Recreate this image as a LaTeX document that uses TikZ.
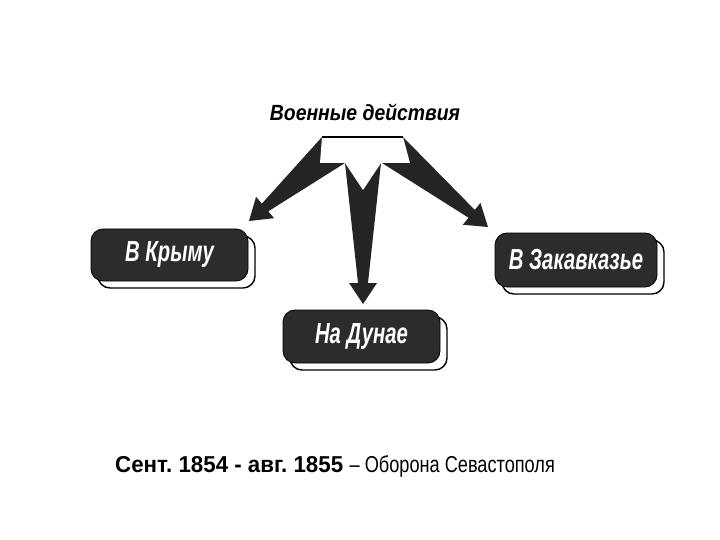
\documentclass[tikz,border=0pt]{standalone}
\usepackage{fontspec}
\setmainfont{Liberation Sans}
\newfontfamily\boxfont[FakeStretch=0.7]{Liberation Sans}
\newfontfamily\headfont[FakeStretch=0.88]{Liberation Sans}
\newfontfamily\datefont[FakeStretch=0.97]{Liberation Sans}
\newfontfamily\notefont[FakeStretch=0.79]{Liberation Sans}
\usetikzlibrary{calc,shadows}
\definecolor{boxDark}{RGB}{44,44,44}
\definecolor{wedgeDark}{RGB}{36,36,36}
\newcommand{\Wedge}[3]{%
  \coordinate (wm) at ($(#1)!0.5!(#2)$);
  \coordinate (wh) at ($(#3)!21pt!(wm)$);
  \fill[wedgeDark] (#1) -- ($(wh)!5pt!90:(#3)$) -- ($(wh)!14pt!90:(#3)$) -- (#3)
    -- ($(wh)!14pt!-90:(#3)$) -- ($(wh)!5pt!-90:(#3)$) -- (#2) -- cycle;}
\frenchspacing

\begin{document}
\begin{tikzpicture}[x=1pt,y=-1pt,
  theatre/.style={rounded corners=12pt,fill=boxDark,draw=black,line width=0.8pt,
    minimum width=157pt,minimum height=52pt,inner sep=0pt,text=white,
    font=\boxfont\bfseries\itshape\fontsize{29}{31}\selectfont,
    general shadow={fill=white,draw=black,line width=1.4pt,shadow xshift=7pt,shadow yshift=-7pt}}]
\useasboundingbox (0,0) rectangle (720,540);
\node[font=\headfont\bfseries\itshape\fontsize{22}{24}\selectfont] (title) at (365,112) {Военные действия};
% the three theatres
\node[theatre] (krym) at (169.5,255) {В Крыму};
\node[theatre,minimum width=162pt,minimum height=54pt] (kavkaz) at (576,260) {В Закавказье};
\node[theatre,minimum height=53pt] (dunai) at (361.5,336.5) {На Дунае};
% hub under the title
\coordinate (hubTL) at (322,137);
\coordinate (hubTR) at (403,137);
\coordinate (hubBL) at (345,163);
\coordinate (hubBR) at (381,163);
\coordinate (tipK) at (249,221);
\coordinate (tipZ) at (488,227);
\coordinate (tipD) at (363,304);
\Wedge{hubBL}{hubTL}{tipK}
\Wedge{hubTR}{382,163}{tipZ}
\Wedge{hubBR}{hubBL}{tipD}
\fill[white] (hubTL) -- (hubTR) -- (410,163) -- (hubBR) -- (363,190) -- (hubBL) -- (320,163) -- cycle;
\draw[line width=1.6pt] (hubTL) -- (hubTR);
% date line
\node[anchor=base west,inner sep=0pt] (date) at (115,472)
  {\fontsize{23}{26}\selectfont{\datefont\bfseries Сент. 1854 - авг. 1855} {\notefont – Оборона Севастополя}};
\end{tikzpicture}
\end{document}
